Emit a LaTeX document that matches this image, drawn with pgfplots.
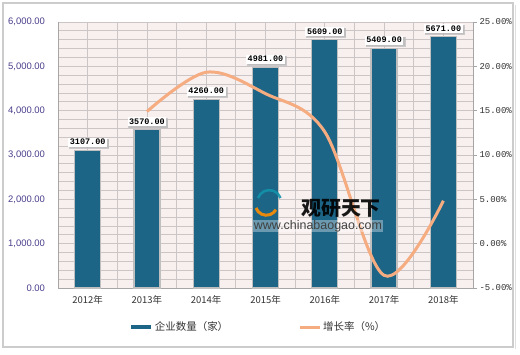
\documentclass[border=0pt]{standalone}
\usepackage{pgfplots}
\pgfplotsset{compat=1.18}
\usetikzlibrary{shadows}
\usepackage{fontspec}
\setmainfont{Liberation Sans}
\newfontfamily\cjk{Noto Sans CJK SC}
\newfontfamily\mono{Liberation Mono}
\definecolor{barblue}{HTML}{1C6587}
\definecolor{lineorange}{HTML}{F5AC80}
\definecolor{plotbg}{HTML}{F8EFEF}
\definecolor{gridc}{HTML}{CCC5C5}
\definecolor{ylab}{HTML}{4A3F8C}
\begin{document}
\begin{tikzpicture}[x=1bp,y=1bp]
\fill[white] (0,0) rectangle (520,354);
\draw[gray!40, line width=2.5bp] (3,7) rectangle (513,351);
\draw[gray!25, line width=1bp] (515,5) -- (515,349);
\begin{axis}[
  at={(58bp,66bp)}, anchor=south west,
  scale only axis, width=415bp, height=266bp,
  xmin=-0.5, xmax=6.5, ymin=0, ymax=6000,
  axis background/.style={fill=plotbg},
  ybar, bar width=26bp,
  xtick={0,...,6},
  xticklabels={2012年,2013年,2014年,2015年,2016年,2017年,2018年},
  minor xtick={-0.5,0.5,...,6.5},
  ytick={0,1000,...,6000},
  minor y tick num=4,
  xmajorgrids, xminorgrids, ymajorgrids, yminorgrids,
  grid style={gridc, line width=0.8bp},
  major tick length=0, minor tick length=0,
  axis lines*=left,
  axis line style={gray!70, line width=0.8bp},
  /pgf/number format/assume math mode=true,
  yticklabel style={font=\fontsize{9.5}{10}\selectfont, color=ylab, xshift=-9.5bp},
  y tick label style={/pgf/number format/.cd, fixed, fixed zerofill, precision=2, 1000 sep={,}},
  xticklabel style={font=\cjk\fontsize{9.5}{10}\selectfont, color=black!80, yshift=-4bp},
  clip=false,
  nodes near coords={\pgfmathprintnumber[fixed,fixed zerofill,precision=2,1000 sep={}]{\pgfplotspointmeta}},
  every node near coord/.append style={fill=white, inner sep=1.6bp, font=\mono\bfseries\fontsize{8.5}{9}\selectfont, text=black, yshift=3bp,
     drop shadow={shadow xshift=1.5bp, shadow yshift=-1.5bp, fill=gray!60, opacity=0.8}},
]
\addplot[fill=barblue, draw=gray!50, line width=1.2bp] coordinates {
 (0,3107) (1,3570) (2,4260) (3,4981) (4,5609) (5,5409) (6,5671)
};
\end{axis}
\begin{axis}[
  at={(58bp,66bp)}, anchor=south west,
  scale only axis, width=415bp, height=266bp,
  xmin=-0.5, xmax=6.5, ymin=-5, ymax=25,
  axis x line=none,
  axis y line*=right,
  axis line style={gray!70, line width=0.8bp},
  ytick={-5,0,...,25},
  tick align=outside, major tick length=4bp,
  tick style={gray!70, line width=0.8bp},
  /pgf/number format/assume math mode=true,
  yticklabel={\pgfmathprintnumber[fixed,fixed zerofill,precision=2]{\tick}\%},
  yticklabel style={font=\mono\fontsize{9}{10}\selectfont, color=black!80, xshift=-1bp},
  legend style={at={(0.482,-0.147)}, anchor=center, draw=none, fill=none,
     legend columns=2, font=\cjk\fontsize{10.5}{11}\selectfont, text=black!80,
     /tikz/every even column/.append style={column sep=68bp}},
  legend image code/.code={\draw[#1] (0bp,0bp) -- (20bp,0bp);},
]
\addlegendimage{barblue, line width=4bp}
\addlegendentry{企业数量（家）}
\addplot[lineorange, line width=3bp, smooth, tension=0.55] coordinates {
 (1,14.90) (2,19.33) (3,16.92) (4,12.61) (5,-3.57) (6,4.84)
};
\addlegendentry{增长率（\%）}
\end{axis}
% watermark
\begin{scope}[opacity=0.9]
\draw[orange!90!yellow, line width=3bp] (256,146) arc[start angle=200, end angle=330, radius=11];
\draw[barblue!70!cyan, line width=2.5bp] (258,156) arc[start angle=160, end angle=20, radius=12];
\node[font=\cjk\bfseries\fontsize{20}{22}\selectfont, text=black] at (341,146) {观研天下};
\node[font=\fontsize{12.5}{13}\selectfont, text=black!75, fill=white, fill opacity=0.35, text opacity=1, inner sep=0.5bp] at (318,128) {www.chinabaogao.com};
\end{scope}
\end{tikzpicture}
\end{document}
